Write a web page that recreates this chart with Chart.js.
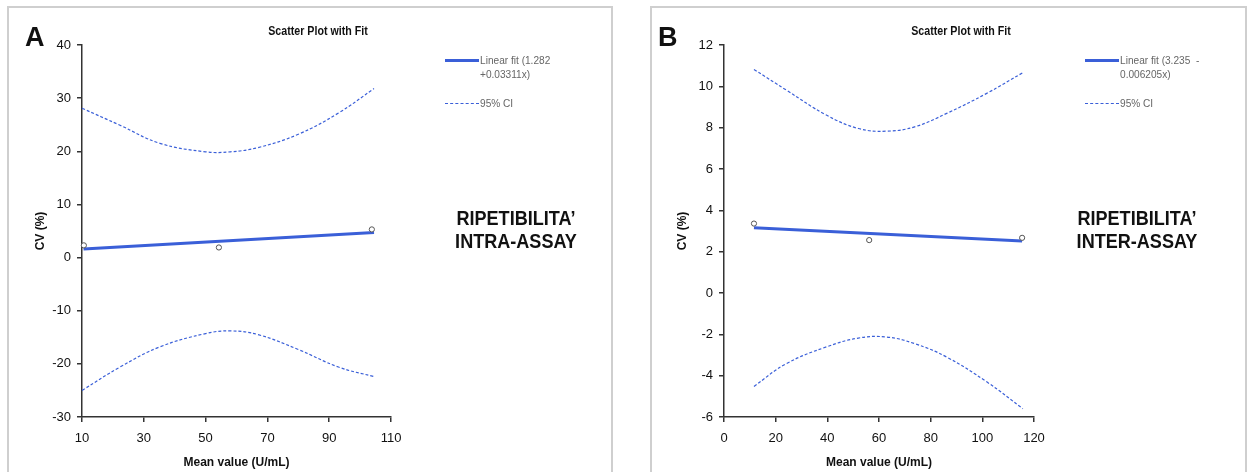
<!DOCTYPE html>
<html>
<head>
<meta charset="utf-8">
<script src="https://cdn.jsdelivr.net/npm/chart.js@4.4.1/dist/chart.umd.min.js"></script>
<style>
  body { margin: 0; background: #fff; width: 1251px; height: 472px; overflow: hidden; position: relative;
         font-family: "Liberation Sans", Arial, sans-serif; }
  .panel { position: absolute; top: 6px; height: 470px; border: 2px solid #cfcfcf; box-sizing: border-box; }
  .cv { position: absolute; }
  .abs { position: absolute; white-space: nowrap; color: #111; }
  .letter { font-weight: bold; font-size: 27px; line-height: 27px; }
  .ttl { font-weight: bold; font-size: 13px; transform: translateX(-50%) scaleX(0.82); }
  .note { font-weight: bold; font-size: 21px; line-height: 23px; text-align: center; transform: translateX(-50%) scaleX(0.86); }
  .leg { font-size: 11.5px; line-height: 14px; color: #666; transform: scaleX(0.88); transform-origin: left top; }
  .solid { position: absolute; height: 0; border-top: 3px solid #3a5fd8; }
  .dash { position: absolute; height: 0; border-top: 1px dashed #3a5fd8; }
</style>
</head>
<body>
<div class="panel" style="left:7px; width:606px;"></div>
<div class="panel" style="left:650px; width:597px;"></div>

<canvas id="chartA" class="cv" style="left:8px; top:6px;" width="604" height="466"></canvas>
<canvas id="chartB" class="cv" style="left:650px; top:6px;" width="596" height="466"></canvas>

<div class="abs letter" style="left:25px; top:24px;">A</div>
<div class="abs letter" style="left:658px; top:24px;">B</div>
<div class="abs ttl" style="left:318px; top:23px;">Scatter Plot with Fit</div>
<div class="abs ttl" style="left:961px; top:23px;">Scatter Plot with Fit</div>

<div class="solid" style="left:445px; top:59px; width:34px;"></div>
<div class="abs leg" style="left:480px; top:53px;">Linear fit (1.282<br>+0.03311x)</div>
<div class="dash" style="left:445px; top:103px; width:34px;"></div>
<div class="abs leg" style="left:480px; top:96px;">95% CI</div>

<div class="solid" style="left:1085px; top:59px; width:34px;"></div>
<div class="abs leg" style="left:1120px; top:53px;">Linear fit (3.235&nbsp;&nbsp;-<br>0.006205x)</div>
<div class="dash" style="left:1085px; top:103px; width:34px;"></div>
<div class="abs leg" style="left:1120px; top:96px;">95% CI</div>

<div class="abs note" style="left:516px; top:206px;">RIPETIBILITA’<br>INTRA-ASSAY</div>
<div class="abs note" style="left:1137px; top:206px;">RIPETIBILITA’<br>INTER-ASSAY</div>

<script>
// Panel A - intra-assay
const ptsAx = [10.6, 54.3, 103.8];
const ptsAy = [2.3, 1.9, 5.3];
const fitAx = [10.5, 104.5];
const fitAy = [1.63, 4.74];
const ciAx = [10, 22.3, 35.2, 50, 58, 67, 80, 93, 104.5];
const ciUpA = [28.1, 24.9, 21.5, 19.9, 19.9, 20.7, 23.2, 27.2, 31.8];
const ciLoA = [-25, -20.6, -16.8, -14.3, -13.8, -14.5, -17.3, -20.6, -22.4];
const xTicksA = { min: 10, max: 110, step: 20 };
const yTicksA = { min: -30, max: 40, step: 10 };

// Panel B - inter-assay
const ptsBx = [11.6, 56.2, 115.4];
const ptsBy = [3.36, 2.56, 2.67];
const fitBx = [11.6, 115.4];
const fitBy = [3.16, 2.52];
const ciBx = [11.6, 24.1, 39.6, 52, 62.9, 73.8, 86.2, 101.7, 115.7];
const ciUpB = [10.82, 9.82, 8.61, 7.96, 7.83, 8.04, 8.69, 9.66, 10.66];
const ciLoB = [-4.52, -3.42, -2.61, -2.18, -2.13, -2.45, -3.1, -4.3, -5.6];
const xTicksB = { min: 0, max: 120, step: 20 };
const yTicksB = { min: -6, max: 12, step: 2 };

const blue = '#3a5fd8';
const tickFont = { family: '"Liberation Sans", Arial', size: 13 };

function xy(xs, ys) {
  return xs.map((x, i) => ({ x: x, y: ys[i] }));
}

function makeChart(id, d, padRight) {
  const axisCommon = {
    type: 'linear',
    border: { display: true, color: '#333', width: 1.5 },
    grid: { display: true, drawOnChartArea: false, drawTicks: true, tickLength: 5, color: '#333', lineWidth: 1.5 },
  };
  new Chart(document.getElementById(id), {
    type: 'scatter',
    data: {
      datasets: [
        { data: xy(d.px, d.py), pointRadius: 2.6, pointBackgroundColor: '#fff',
          pointBorderColor: '#555', pointBorderWidth: 1, showLine: false, order: 0 },
        { data: xy(d.fx, d.fy), showLine: true, borderColor: blue, borderWidth: 3,
          pointRadius: 0, order: 1 },
        { data: xy(d.cx, d.cu), showLine: true, borderColor: blue, borderWidth: 1.2,
          borderDash: [3, 2], pointRadius: 0, tension: 0.4, order: 2 },
        { data: xy(d.cx, d.cl), showLine: true, borderColor: blue, borderWidth: 1.2,
          borderDash: [3, 2], pointRadius: 0, tension: 0.4, order: 2 },
      ]
    },
    options: {
      responsive: false,
      animation: false,
      clip: false,
      layout: { padding: { left: 23, right: padRight, top: 39, bottom: 0 } },
      plugins: { legend: { display: false }, tooltip: { enabled: false } },
      scales: {
        x: Object.assign({}, axisCommon, {
          min: d.xt.min, max: d.xt.max,
          afterFit: s => { s.height = 55; },
          ticks: { stepSize: d.xt.step, color: '#111', font: tickFont, padding: 9, maxRotation: 0 },
          title: { display: true, text: 'Mean value (U/mL)', color: '#111',
                   font: { family: tickFont.family, size: 12, weight: 'bold' }, padding: { top: 4, bottom: 2 } }
        }),
        y: Object.assign({}, axisCommon, {
          min: d.yt.min, max: d.yt.max,
          afterFit: s => { s.width = 51; },
          ticks: { stepSize: d.yt.step, color: '#111', font: tickFont, padding: 6 },
          title: { display: true, text: 'CV (%)', color: '#111',
                   font: { family: tickFont.family, size: 12, weight: 'bold' }, padding: { top: 2, bottom: 2 } }
        })
      }
    }
  });
}

makeChart('chartA', { px: ptsAx, py: ptsAy, fx: fitAx, fy: fitAy, cx: ciAx, cu: ciUpA, cl: ciLoA,
  xt: xTicksA, yt: yTicksA }, 221);
makeChart('chartB', { px: ptsBx, py: ptsBy, fx: fitBx, fy: fitBy, cx: ciBx, cu: ciUpB, cl: ciLoB,
  xt: xTicksB, yt: yTicksB }, 212);
</script>
</body>
</html>
